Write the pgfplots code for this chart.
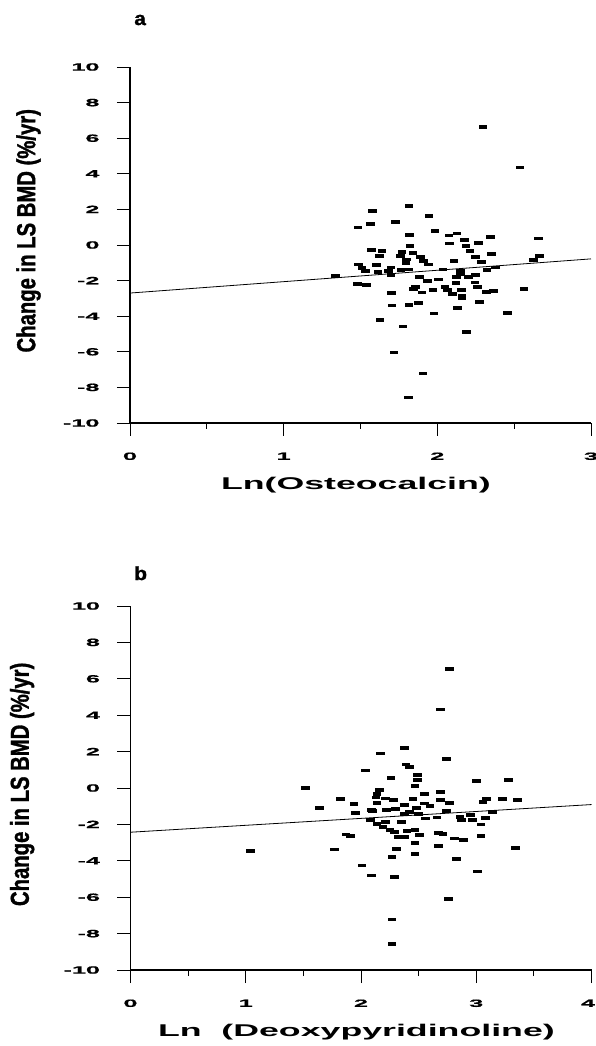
\documentclass[border=0pt]{standalone}
\usepackage{fontspec}
\setmainfont{Liberation Sans}
\newfontfamily\widefont[FakeStretch=2.4, BoldFeatures={FakeStretch=2.4, FakeBold=0.8}]{Liberation Sans}
\newfontfamily\xlabfont[FakeStretch=2.1, BoldFeatures={FakeStretch=2.1}]{Liberation Sans}
\newfontfamily\condfont[FakeStretch=0.78, BoldFeatures={FakeStretch=0.78, FakeBold=1.2}]{Liberation Sans}
\newfontfamily\panelfont[BoldFeatures={FakeStretch=1.1, FakeBold=1.5}]{Liberation Sans}
\usepackage{pgfplots}
\usepackage{pgfplotstable}
\pgfplotsset{compat=1.18}

% little horizontal bar used as the point marker
\pgfdeclareplotmark{bar}{%
  \pgfpathrectangle{\pgfqpoint{-4.3pt}{-1.9pt}}{\pgfqpoint{8.6pt}{3.8pt}}%
  \pgfusepathqfill}

\pgfplotstableread{
x y
2.297 6.61
2.537 4.35
1.815 2.19
1.577 1.91
1.945 1.61
1.728 1.31
1.564 1.16
1.483 0.98
1.984 0.77
2.075 0.53
2.127 0.64
1.817 0.55
2.175 0.30
2.347 0.45
2.659 0.36
2.080 0.08
2.269 0.12
1.822 -0.05
2.186 -0.07
1.572 -0.28
1.641 -0.35
1.770 -0.39
1.841 -0.43
2.212 -0.35
2.353 -0.50
2.665 -0.61
1.622 -0.60
1.761 -0.63
1.891 -0.67
2.249 -0.67
1.798 -0.82
2.108 -0.88
1.908 -0.90
2.627 -0.84
1.796 -0.99
2.286 -0.95
1.488 -1.10
1.605 -1.14
1.941 -1.10
1.509 -1.29
1.698 -1.27
2.377 -1.27
2.323 -1.40
1.533 -1.44
1.613 -1.51
1.681 -1.46
1.763 -1.42
1.815 -1.38
2.038 -1.38
2.149 -1.44
1.338 -1.76
1.698 -1.70
2.149 -1.65
1.882 -1.79
2.125 -1.78
2.203 -1.78
2.247 -1.68
1.937 -2.02
2.008 -1.94
1.479 -2.17
1.540 -2.26
2.121 -2.15
2.245 -2.11
2.262 -2.34
1.859 -2.35
1.843 -2.45
1.900 -2.67
1.973 -2.52
2.049 -2.35
2.065 -2.54
2.100 -2.75
2.158 -2.54
2.160 -2.84
2.160 -3.01
2.318 -2.66
2.366 -2.60
2.563 -2.49
1.700 -2.69
1.705 -3.40
1.815 -3.39
1.878 -3.27
2.130 -3.53
2.273 -3.22
1.978 -3.85
2.457 -3.84
1.627 -4.23
1.776 -4.58
2.188 -4.90
1.718 -6.04
1.906 -7.22
1.813 -8.57
}\osteo

\pgfplotstableread{
x y
1.04 -3.47
1.52 -0.02
1.64 -1.11
1.77 -3.38
1.82 -0.60
1.87 -2.56
1.91 -2.65
1.94 -0.86
1.95 -1.36
2.01 -4.26
2.04 0.96
2.09 -4.81
2.17 1.89
2.26 0.53
2.27 -7.23
2.27 -8.59
2.27 -3.80
2.29 -4.89
2.31 -3.37
2.38 2.18
2.39 1.29
2.42 1.14
2.47 -3.02
2.47 -3.62
2.49 0.73
2.49 0.46
2.47 0.11
2.67 -3.18
2.69 4.31
2.77 6.56
2.74 1.59
2.76 -6.08
2.83 -3.90
3.00 0.38
3.28 0.44
3.01 -4.59
3.34 -3.30
3.36 -0.68
3.23 -0.62
3.09 -0.62
3.06 -0.77
3.14 -1.30
3.08 -1.63
3.04 -2.01
3.04 -2.64
2.69 -0.22
2.55 -0.31
2.69 -0.68
2.77 -0.82
2.74 -1.28
2.66 -1.62
2.56 -1.68
2.86 -1.59
2.87 -1.77
2.95 -1.50
2.97 -1.77
2.67 -2.47
2.71 -2.53
2.81 -2.78
2.89 -2.84
2.51 -2.60
2.32 -2.69
2.38 -2.69
2.25 -2.32
2.29 -2.41
2.40 -2.36
2.47 -2.32
2.35 -1.87
2.08 -1.77
2.14 -1.96
2.19 -2.14
2.21 -1.85
2.38 -1.41
2.42 -1.32
2.09 -1.23
2.22 -1.23
2.14 -0.82
2.10 -1.26
2.16 -0.09
2.14 -0.35
2.21 -0.58
2.28 -0.64
2.13 -0.52
2.38 -0.95
2.45 -0.60
2.55 -0.85
2.60 -1.00
2.30 -1.15
2.48 -1.10
2.50 -1.45
}\deoxy

\pgfplotsset{
  panel/.style={
    scale only axis, width=461pt, clip=false,
    axis lines*=left, enlargelimits=false,
    ymin=-10, ymax=10, ytick={-10,-8,...,10},
    tick align=outside, major tick length=13pt, minor tick length=6pt,
    minor x tick num=1, minor y tick num=0,
    axis line style={line width=1.1pt},
    every tick/.style={black, line width=0.9pt},
    /pgf/number format/assume math mode=true,
    ticklabel style={font=\widefont\bfseries\fontsize{10.5}{12}\selectfont},
    yticklabel style={xshift=-14pt},
    xticklabel style={yshift=-13pt},
    ylabel={Change in LS BMD (\%/yr)},
    ylabel style={font=\condfont\bfseries\fontsize{26}{28}\selectfont,
      at={(axis description cs:-0.22,0.54)}, anchor=center},
    xlabel style={font=\xlabfont\bfseries\fontsize{17}{20}\selectfont, anchor=center},
  },
}

\begin{document}
\begin{tikzpicture}
\useasboundingbox (0,0) rectangle (596pt,1046pt);

\begin{axis}[panel, height=356pt,
  at={(130pt,623pt)}, anchor=south west,
  xmin=0, xmax=3, xtick={0,1,2,3},
  xlabel={Ln(Osteocalcin)},
  xlabel style={at={(axis description cs:0.49,-0.174)}},
]
\addplot[only marks, mark=bar, black] table {\osteo};
\addplot[black, line width=0.8pt] coordinates {(0,-2.70) (3,-0.78)};
\node[font=\panelfont\bfseries\fontsize{19}{21}\selectfont] at (axis description cs:0.022,1.132) {a};
\end{axis}

\begin{axis}[panel, height=364pt,
  at={(130.5pt,76pt)}, anchor=south west,
  xmin=0, xmax=4, xtick={0,1,2,3,4},
  xticklabels={0,1,2,3,{\hspace*{-7pt}4}},
  xlabel={Ln\ \ (Deoxypyridinoline)},
  xlabel style={at={(axis description cs:0.49,-0.17)}},
  ylabel style={at={(axis description cs:-0.235,0.51)}},
]
\addplot[only marks, mark=bar, black] table {\deoxy};
\addplot[black, line width=0.8pt] coordinates {(0,-2.43) (4,-0.91)};
\node[font=\panelfont\bfseries\fontsize{19}{21}\selectfont] at (axis description cs:0.022,1.09) {b};
\end{axis}
\end{tikzpicture}
\end{document}
